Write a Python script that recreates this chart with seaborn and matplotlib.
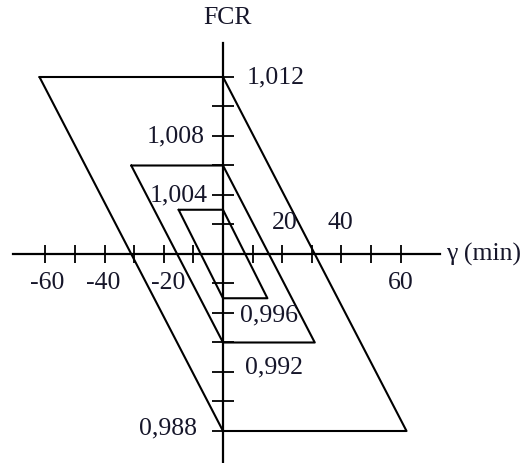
import matplotlib
matplotlib.use("Agg")
import matplotlib.pyplot as plt
import seaborn as sns
import pandas as pd
import numpy as np

# Parallelogram vertices (gamma in min, FCR), listed in drawing order
large_gamma = [-62, 0, 62, 0, -62]
large_fcr = [1.012, 1.012, 0.988, 0.988, 1.012]
medium_gamma = [-31, 0, 31, 0, -31]
medium_fcr = [1.006, 1.006, 0.994, 0.994, 1.006]
small_gamma = [-15, 0, 15, 0, -15]
small_fcr = [1.003, 1.003, 0.997, 0.997, 1.003]

# Axis ticks and their printed labels
x_ticks = [-60, -50, -40, -30, -20, -10, 10, 20, 30, 40, 50, 60]
x_label_values = [-60, -40, -20, 20, 40, 60]
x_label_texts = ["-60", "-40", "-20", "20", "40", "60"]
y_ticks = [0.988, 0.990, 0.992, 0.994, 0.996, 0.998,
           1.002, 1.004, 1.006, 1.008, 1.010, 1.012]
y_label_values = [1.012, 1.008, 1.004, 0.996, 0.992, 0.988]
y_label_texts = ["1,012", "1,008", "1,004", "0,996", "0,992", "0,988"]

frames = []
for name, g, f in [("large", large_gamma, large_fcr),
                   ("medium", medium_gamma, medium_fcr),
                   ("small", small_gamma, small_fcr)]:
    frames.append(pd.DataFrame({"gamma": g, "fcr": f, "shape": name,
                                "order": range(len(g))}))
df = pd.concat(frames, ignore_index=True)

sns.set_theme(style="white")
plt.rcParams["font.family"] = ["Liberation Serif", "DejaVu Serif"]

W, H = 526, 463
fig = plt.figure(figsize=(W / 100, H / 100), dpi=100)
ax = fig.add_axes([0, 0, 1, 1])

# data-to-pixel scaling: 2.96 px per minute, 14750 px per FCR unit
px_x, px_y = 2.96, 14750.0
ox, oy = 223.0, 254.0
xmin = -ox / px_x
ax.set_xlim(xmin, xmin + W / px_x)
ymax = 1.0 + oy / px_y
ax.set_ylim(ymax - H / px_y, ymax)

sns.lineplot(data=df, x="gamma", y="fcr", units="shape", estimator=None,
             sort=False, color="black", linewidth=1.5, ax=ax, legend=False)

# Axes drawn through the origin
for s in ["top", "right"]:
    ax.spines[s].set_visible(False)
ax.spines["left"].set_position(("data", 0))
ax.spines["bottom"].set_position(("data", 1.0))
ax.spines["left"].set_bounds(ymax - H / px_y, 1.0 + (oy - 43) / px_y)
ax.spines["bottom"].set_bounds(xmin + 13 / px_x, xmin + 440 / px_x)
for s in ["left", "bottom"]:
    ax.spines[s].set_color("black")
    ax.spines[s].set_linewidth(1.6)

ax.set_xticks(x_ticks)
ax.set_yticks(y_ticks)
ax.set_xticklabels([])
ax.set_yticklabels([])
ax.tick_params(axis="x", bottom=True, direction="inout", length=13,
               width=1.3, color="black")
ax.tick_params(axis="y", left=True, direction="inout", length=16,
               width=1.3, color="black")
ax.set_xlabel("")
ax.set_ylabel("")

txt_color = "#16162a"
fs = 18.5

# x labels: negative and 60 below the axis, 20 and 40 above
x_offsets = {-60: (1, -21), -40: (-1, -21), -20: (3, -21),
             20: (2, 22), 40: (-1, 22), 60: (0, -21)}
for v, t in zip(x_label_values, x_label_texts):
    dx, dy = x_offsets[v]
    ax.annotate(t, (v, 1.0), xytext=(dx, dy), textcoords="offset points",
                ha="center", va="center", fontsize=fs, color=txt_color)

# y labels: alternating sides of the vertical axis
y_offsets = {1.012: (17, 0, "left"), 1.008: (-13, 0, "right"),
             1.004: (-11, 0, "right"), 0.996: (12, -2, "left"),
             0.992: (16, 3, "left"), 0.988: (-19, 2, "right")}
for v, t in zip(y_label_values, y_label_texts):
    dx, dy, ha = y_offsets[v]
    ax.annotate(t, (0, v), xytext=(dx, dy), textcoords="offset points",
                ha=ha, va="center", fontsize=fs, color=txt_color)

ax.text(xmin + 228 / px_x, ymax - 18 / px_y, "FCR", ha="center", va="center",
        fontsize=fs, color=txt_color)
ax.text(xmin + 446 / px_x, 1.0, "γ (min)", ha="left", va="center",
        fontsize=fs, color=txt_color)

fig.savefig("out.png", dpi=100, facecolor="white")
